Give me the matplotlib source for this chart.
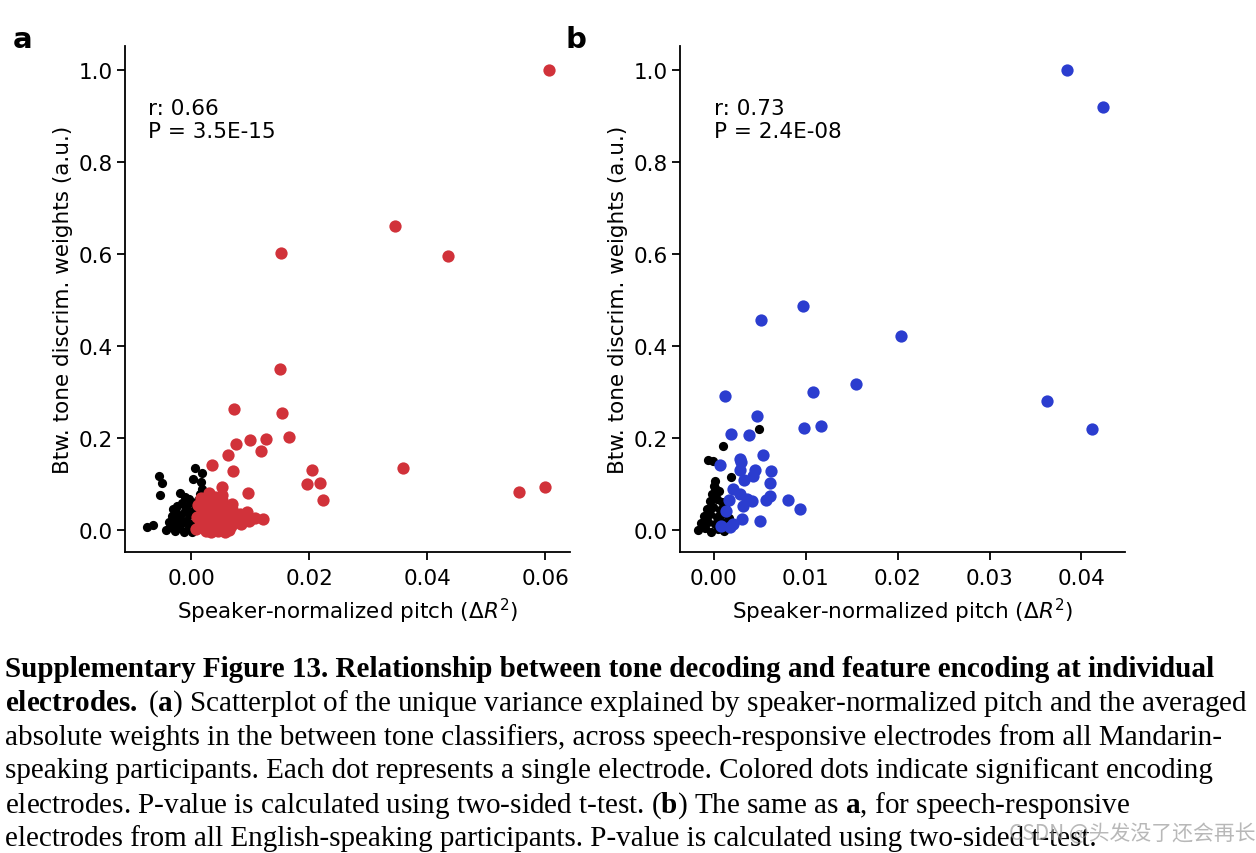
import matplotlib
matplotlib.use('Agg')
import matplotlib.pyplot as plt
import numpy as np

plt.rcParams['font.family'] = ['DejaVu Sans']
plt.rcParams['mathtext.bf'] = 'Liberation Serif:bold'
plt.rcParams['mathtext.rm'] = 'Liberation Serif'
plt.rcParams['mathtext.it'] = 'Liberation Serif:italic'

RED = '#d1323a'
BLUE = '#2b3dcf'

# ---- panel a (Mandarin) ----
a_sig_x = [0.0606, 0.0345, 0.0435, 0.0153, 0.0151, 0.0154, 0.0073, 0.0076, 0.0099, 0.0127,
           0.0166, 0.0118, 0.0063, 0.0036, 0.0071, 0.0205, 0.0359, 0.0196, 0.0219, 0.0224,
           0.0096, 0.0052, 0.0053, 0.0069, 0.0094, 0.0108, 0.0121, 0.0080, 0.0556, 0.0600,
           0.0008, 0.0015, 0.0022, 0.0030, 0.0038, 0.0045, 0.0052, 0.0060, 0.0068, 0.0076,
           0.0010, 0.0018, 0.0026, 0.0034, 0.0042, 0.0050, 0.0058, 0.0066, 0.0074, 0.0082,
           0.0012, 0.0020, 0.0028, 0.0036, 0.0044, 0.0052, 0.0061, 0.0070,
           0.0033, 0.0046, 0.0057, 0.0025, 0.0065, 0.0085, 0.0090, 0.0098, 0.0040, 0.0031, 0.0016]
a_sig_y = [1.000, 0.661, 0.596, 0.601, 0.350, 0.254, 0.262, 0.187, 0.195, 0.198,
           0.201, 0.171, 0.162, 0.141, 0.128, 0.130, 0.134, 0.099, 0.102, 0.065,
           0.080, 0.094, 0.075, 0.056, 0.038, 0.025, 0.023, 0.031, 0.083, 0.094,
           0.002, 0.010, 0.004, 0.012, 0.003, 0.015, 0.006, 0.018, 0.008, 0.022,
           0.028, 0.040, 0.022, 0.034, 0.026, 0.042, 0.030, 0.038, 0.030, 0.035,
           0.055, 0.062, 0.048, 0.058, 0.052, 0.065, 0.050, 0.045,
           -0.004, -0.003, -0.005, -0.002, 0.000, 0.012, 0.028, 0.020, 0.072, 0.080, 0.070]

a_ns_x = [-0.0042, -0.0035, -0.0028, -0.0020, -0.0012, -0.0005, 0.0002, 0.0008,
          -0.0038, -0.0030, -0.0023, -0.0015, -0.0008, 0.0000, 0.0007,
          -0.0033, -0.0026, -0.0018, -0.0010, -0.0003, 0.0004, 0.0010,
          -0.0024, -0.0016, -0.0008, 0.0000, 0.0006, 0.0012,
          -0.0010, -0.0003, 0.0015,
          -0.0054, -0.0049, -0.0053, 0.0006, 0.0019, 0.0003, 0.0016, -0.0018, 0.0018,
          -0.0075, -0.0065, -0.0030]
a_ns_y = [0.000, 0.006, -0.003, 0.004, -0.004, 0.002, -0.005, 0.006,
          0.018, 0.012, 0.022, 0.014, 0.020, 0.012, 0.018,
          0.030, 0.038, 0.030, 0.040, 0.032, 0.042, 0.028,
          0.052, 0.058, 0.050, 0.060, 0.054, 0.064,
          0.072, 0.068, 0.078,
          0.118, 0.102, 0.075, 0.134, 0.123, 0.111, 0.104, 0.081, 0.088,
          0.007, 0.010, 0.046]

# ---- panel b (English) ----
b_sig_x = [0.0384, 0.0424, 0.0051, 0.0097, 0.0204, 0.0155, 0.0108, 0.0012, 0.0363, 0.0412,
           0.0047, 0.0098, 0.0117, 0.0018, 0.0038, 0.0053, 0.0028, 0.0029, 0.0007, 0.0028,
           0.0045, 0.0062, 0.0042, 0.0033, 0.0061, 0.0021, 0.0028, 0.0016, 0.0036, 0.0041,
           0.0057, 0.0061, 0.0081, 0.0094, 0.0032, 0.0013, 0.0030, 0.0050, 0.0008, 0.0017, 0.0021]
b_sig_y = [1.000, 0.920, 0.457, 0.486, 0.421, 0.317, 0.299, 0.291, 0.280, 0.219,
           0.248, 0.221, 0.226, 0.208, 0.207, 0.163, 0.154, 0.147, 0.142, 0.130,
           0.131, 0.128, 0.118, 0.108, 0.102, 0.089, 0.078, 0.064, 0.067, 0.062,
           0.064, 0.073, 0.064, 0.046, 0.051, 0.040, 0.023, 0.019, 0.009, 0.006, 0.012]

b_ns_x = [-0.0017, -0.0010, -0.0003, 0.0004, 0.0011, 0.0016,
          -0.0014, -0.0006, 0.0001, 0.0008, 0.0014,
          -0.0011, -0.0004, 0.0003, 0.0010, 0.0016,
          -0.0008, -0.0001, 0.0006, 0.0012,
          -0.0004, 0.0003, 0.0009,
          -0.0002, 0.0005, 0.0001,
          0.0010, -0.0006, -0.0001, 0.0019, 0.0001, 0.0000, 0.0049]
b_ns_y = [0.000, 0.004, -0.004, 0.002, -0.003, 0.006,
          0.014, 0.018, 0.012, 0.020, 0.014,
          0.030, 0.034, 0.028, 0.036, 0.026,
          0.046, 0.050, 0.044, 0.052,
          0.062, 0.068, 0.060,
          0.078, 0.084, 0.092,
          0.183, 0.152, 0.149, 0.116, 0.107, 0.096, 0.220]

stats_a = 'r: 0.66\nP = 3.5E-15'
stats_b = 'r: 0.73\nP = 2.4E-08'
xticks_a = [0.00, 0.02, 0.04, 0.06]
xticks_b = [0.00, 0.01, 0.02, 0.03, 0.04]
yticks = [0.0, 0.2, 0.4, 0.6, 0.8, 1.0]

caption = [
    'Supplementary Figure 13. Relationship between tone decoding and feature encoding at individual',
    r'$\mathbf{electrodes.}$ ($\mathbf{a}$) Scatterplot of the unique variance explained by speaker-normalized pitch and the averaged',
    'absolute weights in the between tone classifiers, across speech-responsive electrodes from all Mandarin-',
    'speaking participants. Each dot represents a single electrode. Colored dots indicate significant encoding',
    r'electrodes. P-value is calculated using two-sided t-test. ($\mathbf{b}$) The same as $\mathbf{a}$, for speech-responsive',
    'electrodes from all English-speaking participants. P-value is calculated using two-sided t-test.',
]

fig = plt.figure(figsize=(12.56, 8.54), dpi=100)
ax_a = fig.add_axes([0.0995, 0.3525, 0.354, 0.5925])
ax_b = fig.add_axes([0.5414, 0.3525, 0.354, 0.5925])

ax_a.scatter(a_ns_x, a_ns_y, s=44, color='black', linewidths=0, zorder=2)
ax_a.scatter(a_sig_x, a_sig_y, s=78, color=RED, linewidths=0, zorder=3)
ax_b.scatter(b_ns_x, b_ns_y, s=44, color='black', linewidths=0, zorder=2)
ax_b.scatter(b_sig_x, b_sig_y, s=78, color=BLUE, linewidths=0, zorder=3)

ax_a.set_xlim(-0.0112, 0.0641)
ax_b.set_xlim(-0.0037, 0.0447)
ax_a.set_xticks(xticks_a)
ax_a.set_xticklabels(['%.2f' % v for v in xticks_a])
ax_b.set_xticks(xticks_b)
ax_b.set_xticklabels(['%.2f' % v for v in xticks_b])

for ax, txt, tx in [(ax_a, stats_a, 0.052), (ax_b, stats_b, 0.076)]:
    ax.set_ylim(-0.048, 1.052)
    ax.set_yticks(yticks)
    ax.set_yticklabels(['%.1f' % v for v in yticks])
    ax.spines['top'].set_visible(False)
    ax.spines['right'].set_visible(False)
    for sp in ['left', 'bottom']:
        ax.spines[sp].set_linewidth(1.3)
    ax.tick_params(labelsize=15.5, width=1.3, length=5.5)
    ax.tick_params(axis='x', pad=6)
    ax.set_xlabel(r'Speaker-normalized pitch ($\Delta R^2$)', fontsize=15.5, labelpad=6)
    ax.set_ylabel('Btw. tone discrim. weights (a.u.)', fontsize=15.5)
    ax.text(tx, 0.898, txt, transform=ax.transAxes, fontsize=15.5, va='top', ha='left',
            linespacing=1.2)

fig.text(0.010, 0.944, 'a', fontsize=21, fontweight='bold', va='baseline')
fig.text(0.450, 0.944, 'b', fontsize=21, fontweight='bold', va='baseline')

y0 = 1 - 677 / 854
for i, line in enumerate(caption):
    kw = dict(fontsize=21, family='Liberation Serif', math_fontfamily='custom', va='baseline')
    if i == 0:
        kw['fontweight'] = 'bold'
    fig.text(0.004, y0 - i * 33.8 / 854, line, **kw)

# faint watermark in the bottom-right corner (overlaps the caption as in the source)
fig.text(0.803, 1 - 840 / 854, 'CSDN @头发没了还会再长', fontsize=15, color='#9a9a9a', alpha=0.7,
         family=['Noto Sans CJK SC', 'DejaVu Sans'], va='baseline')

fig.savefig('out.png', dpi=100)
